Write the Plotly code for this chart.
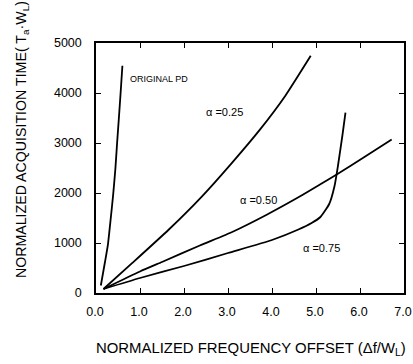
import plotly.graph_objects as go

# Data
pd_x = [0.11, 0.20, 0.27, 0.33, 0.39, 0.44, 0.48, 0.52, 0.56, 0.60]
pd_y = [150, 600, 964, 1450, 1968, 2480, 3006, 3500, 4010, 4545]

a25_x = [0.17, 0.82, 1.65, 2.41, 3.09, 3.73, 4.30, 4.88]
a25_y = [80, 596, 1265, 1934, 2604, 3273, 3942, 4745]

a50_x = [0.17, 1.0, 1.5, 2.36, 3.12, 3.88, 4.64, 5.09, 5.47, 6.1, 6.72]
a50_y = [80, 430, 620, 950, 1231, 1566, 1934, 2169, 2369, 2720, 3072]

a75_x = [0.17, 1.0, 2.0, 3.0, 4.0, 4.6, 4.9, 5.1, 5.3, 5.42, 5.5, 5.6, 5.67]
a75_y = [80, 300, 540, 800, 1060, 1270, 1400, 1520, 1780, 2135, 2550, 3150, 3608]

x_ticks = [0, 1, 2, 3, 4, 5, 6, 7]
x_ticklabels = ["0.0", "1.0", "2.0", "3.0", "4.0", "5.0", "6.0", "7.0"]
y_ticks = [0, 1000, 2000, 3000, 4000, 5000]
y_ticklabels = ["0", "1000", "2000", "3000", "4000", "5000"]

labels = ["ORIGINAL PD", "α =0.25", "α =0.50", "α =0.75"]
label_x = [0.73, 2.91, 3.69, 5.13]
label_y = [4280, 3620, 1867, 897]
label_anchor = ["left", "center", "center", "center"]
label_size = [9, 11, 11, 11]

x_title = "NORMALIZED FREQUENCY OFFSET (Δf/W<sub>L</sub>)"
y_title = "NORMALIZED ACQUISITION TIME( T<sub>a</sub>·W<sub>L</sub>)"

FONT = "Liberation Sans, Arial, sans-serif"

fig = go.Figure()
for xs, ys in [(pd_x, pd_y), (a25_x, a25_y), (a50_x, a50_y), (a75_x, a75_y)]:
    fig.add_trace(go.Scatter(x=xs, y=ys, mode="lines",
                             line=dict(color="black", width=1.8, shape="spline", smoothing=0.5),
                             showlegend=False, hoverinfo="skip"))

for t, x, y, a, s in zip(labels, label_x, label_y, label_anchor, label_size):
    fig.add_annotation(x=x, y=y, text=t, showarrow=False, xanchor=a, yanchor="middle",
                       font=dict(family=FONT, size=s, color="black"))

# axis titles placed as annotations in paper coordinates
fig.add_annotation(xref="paper", yref="paper", x=0.503, y=-0.224, text=x_title,
                   showarrow=False, xanchor="center", yanchor="middle",
                   font=dict(family=FONT, size=14.9, color="black"))
fig.add_annotation(xref="paper", yref="paper", x=-0.24, y=0.612, text=y_title,
                   showarrow=False, xanchor="center", yanchor="middle", textangle=-90,
                   font=dict(family=FONT, size=14.2, color="black"))

axis_common = dict(showline=True, linecolor="black", linewidth=1.5, mirror="ticks",
                   ticks="inside", ticklen=5, tickwidth=1.2, tickcolor="black",
                   showgrid=False, zeroline=False, automargin=False,
                   ticklabeloverflow="allow",
                   tickfont=dict(family=FONT, size=12.5, color="black"))

fig.update_xaxes(range=[0, 7], tickvals=x_ticks, ticktext=x_ticklabels,
                 ticklabelstandoff=6, ticklabelshift=-1, **axis_common)
fig.update_yaxes(range=[0, 5000], tickvals=y_ticks, ticktext=y_ticklabels,
                 ticklabelstandoff=10, **axis_common)

fig.update_layout(width=413, height=364, margin=dict(l=96, r=9, t=43, b=71),
                  paper_bgcolor="white", plot_bgcolor="white")

fig.write_html("out.html", config={"displayModeBar": False},
               post_script="document.body.style.margin='0';document.body.style.overflow='hidden';")
